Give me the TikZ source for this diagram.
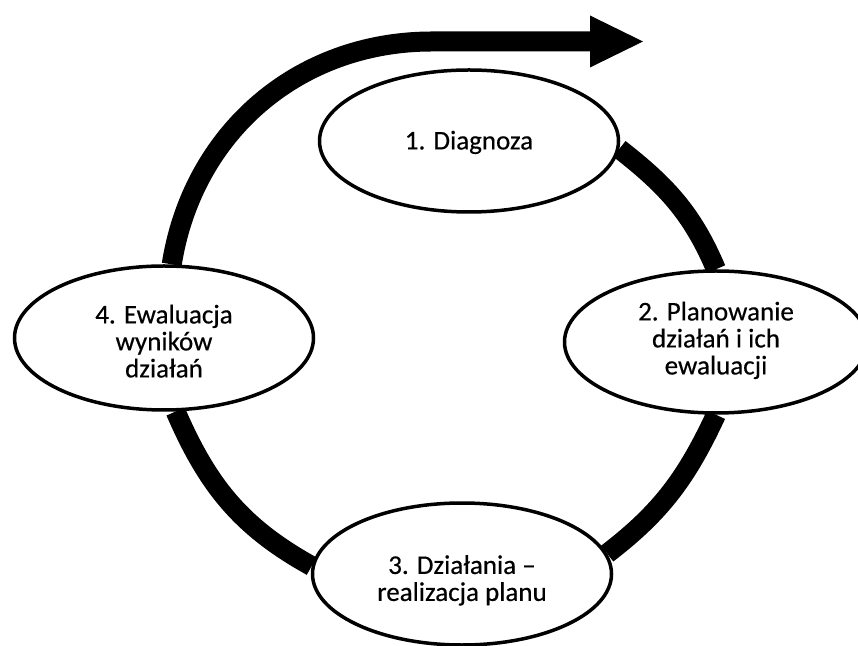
\documentclass[tikz,border=0pt]{standalone}
\usepackage{fontspec}
\setmainfont{Carlito}[FakeBold=0.4]
\usetikzlibrary{shapes.geometric,arrows.meta,backgrounds}
\newcommand\stagetext[2]{\raisebox{#1}[\height][\depth]{\begin{tabular}{@{}c@{}}#2\end{tabular}}}
\begin{document}
\begin{tikzpicture}[x=1pt,y=1pt,
  stage/.style={ellipse,draw=black,line width=3.5pt,fill=white,
    minimum width=299pt,minimum height=142pt,inner sep=0pt,
    font=\fontsize{27}{27}\selectfont},
  ring/.style={line width=20pt,draw=black}]
\useasboundingbox (0,0) rectangle (858,645);
\node[stage] (n1) at (469,504) {\stagetext{-3pt}{1. Diagnoza}};
\node[stage, minimum width=303pt] (n2) at (716,303) {\stagetext{0pt}{2. Planowanie\\działań i ich\\ewaluacji}};
\node[stage] (n3) at (462,71) {\stagetext{-8pt}{3. Działania –\\realizacja planu}};
\node[stage, minimum height=144pt] (n4) at (164,307) {\stagetext{-7pt}{4. Ewaluacja\\wyników\\działań}};
\coordinate (ctop) at (432,603.5);
\coordinate (tip) at (643,603.5);
\begin{scope}[on background layer]
\draw[ring,-{Triangle[length=53pt,width=52pt,line width=0pt]}] (n4.84) to[out=81,in=180] (ctop) -- (tip);
\draw[ring] (n1.-3) to[out=-38,in=113] (n2.north);
\draw[ring] (n2.south) to[out=245,in=37.5] (n3.8);
\draw[ring] (n3.177) to[out=151,in=-66.6] (n4.-81);
\end{scope}
\end{tikzpicture}
\end{document}
